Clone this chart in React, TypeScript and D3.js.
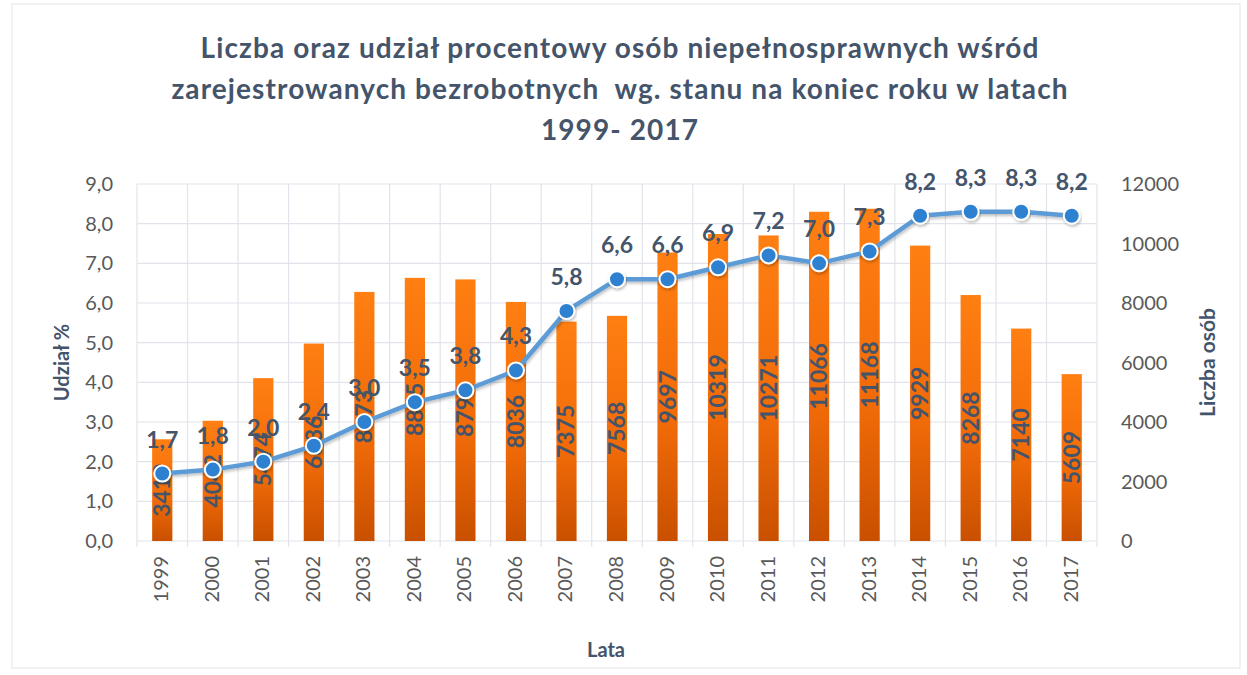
import React from 'react';
import * as d3 from 'd3';

const years = ['1999', '2000', '2001', '2002', '2003', '2004', '2005', '2006', '2007', '2008',
  '2009', '2010', '2011', '2012', '2013', '2014', '2015', '2016', '2017'];
const counts = [3419, 4042, 5474, 6636, 8373, 8845, 8793, 8036, 7375, 7568,
  9697, 10319, 10271, 11066, 11168, 9929, 8268, 7140, 5609];
const shares = [1.7, 1.8, 2.0, 2.4, 3.0, 3.5, 3.8, 4.3, 5.8, 6.6,
  6.6, 6.9, 7.2, 7.0, 7.3, 8.2, 8.3, 8.3, 8.2];
const leftTicks = [0, 1, 2, 3, 4, 5, 6, 7, 8, 9];
const rightTicks = [0, 2000, 4000, 6000, 8000, 10000, 12000];
const titleLines = [
  'Liczba oraz udział procentowy osób niepełnosprawnych wśród',
  'zarejestrowanych bezrobotnych  wg. stanu na koniec roku w latach',
  '1999- 2017',
];

const W = 1247;
const H = 675;
const plot = { left: 137, right: 1097, top: 184, bottom: 541 };
const font = 'Lato, "Open Sans", sans-serif';
const dark = '#44546a';
const gray = '#595959';

const App = () => {
  const x = d3.scaleBand<string>()
    .domain(years)
    .range([plot.left, plot.right])
    .paddingInner(0.6)
    .paddingOuter(0.3);
  const yL = d3.scaleLinear().domain([0, 9]).range([plot.bottom, plot.top]);
  const yR = d3.scaleLinear().domain([0, 12000]).range([plot.bottom, plot.top]);
  const cx = (y: string) => (x(y) ?? 0) + x.bandwidth() / 2;
  const step = x.step();
  const fmt = (v: number) => v.toFixed(1).replace('.', ',');

  const line = d3.line<number>()
    .x((_, i) => cx(years[i]))
    .y((d) => yL(d));

  return (
    <svg width={W} height={H} style={{ position: 'absolute', left: 0, top: 0, background: '#fff' }}>
      <defs>
        <linearGradient id="barGrad" x1="0" y1="0" x2="0" y2="1">
          <stop offset="0%" stopColor="#ff7f12" />
          <stop offset="60%" stopColor="#f06a08" />
          <stop offset="100%" stopColor="#c95000" />
        </linearGradient>
        <filter id="shadow" x="-10%" y="-10%" width="120%" height="140%">
          <feDropShadow dx="1" dy="2" stdDeviation="1.5" floodColor="#000" floodOpacity="0.25" />
        </filter>
      </defs>
      <rect x={12} y={4} width={1228} height={664} fill="none" stroke="#e3e3e3" />

      {/* title */}
      {titleLines.map((t, i) => (
        <text key={i} x={620} y={58 + i * 41} textAnchor="middle" fontFamily={font}
          fontWeight={700} fontSize={28} letterSpacing={1.1} fill={dark}
          style={{ whiteSpace: 'pre' }}>{t}</text>
      ))}

      {/* grid */}
      {leftTicks.map((t) => (
        <line key={'h' + t} x1={plot.left} x2={plot.right} y1={yL(t)} y2={yL(t)} stroke="#e1e4ea" strokeWidth={1.2} />
      ))}
      {d3.range(years.length + 1).map((i) => (
        <line key={'v' + i} x1={plot.left + i * step} x2={plot.left + i * step}
          y1={plot.top} y2={plot.bottom + 6} stroke="#e1e4ea" strokeWidth={1.2} />
      ))}

      {/* bars */}
      {counts.map((c, i) => (
        <rect key={'b' + i} x={x(years[i])} y={yR(c)} width={x.bandwidth()}
          height={plot.bottom - yR(c)} fill="url(#barGrad)" />
      ))}
      {counts.map((c, i) => {
        const my = (yR(c) + plot.bottom) / 2;
        return (
          <text key={'bl' + i} transform={`translate(${cx(years[i]) + 8},${my}) rotate(-90)`}
            textAnchor="middle" fontFamily={font} fontWeight={700} fontSize={23} fill={dark}>{c}</text>
        );
      })}

      {/* line */}
      <path d={line(shares) ?? ''} fill="none" stroke="#5b9bd5" strokeWidth={4.5}
        strokeLinejoin="round" filter="url(#shadow)" />
      {shares.map((s, i) => (
        <circle key={'c' + i} cx={cx(years[i])} cy={yL(s)} r={8} fill="#2f80d0"
          stroke="#fff" strokeWidth={2} filter="url(#shadow)" />
      ))}
      {shares.map((s, i) => (
        <text key={'sl' + i} x={cx(years[i])} y={yL(s) - 26} textAnchor="middle" fontFamily={font}
          fontWeight={700} fontSize={23} fill={dark}>{fmt(s)}</text>
      ))}

      {/* left axis */}
      {leftTicks.map((t) => (
        <text key={'lt' + t} x={113} y={yL(t) + 7} textAnchor="end" fontFamily={font}
          fontSize={20} fill={gray}>{fmt(t)}</text>
      ))}
      <text transform={`translate(69,${(plot.top + plot.bottom) / 2}) rotate(-90)`} textAnchor="middle"
        fontFamily={font} fontWeight={700} fontSize={20} fill={dark}>Udział %</text>

      {/* right axis */}
      {rightTicks.map((t) => (
        <text key={'rt' + t} x={1121} y={yR(t) + 7} fontFamily={font}
          fontSize={20} fill={gray}>{t}</text>
      ))}
      <text transform={`translate(1215,${(plot.top + plot.bottom) / 2}) rotate(-90)`} textAnchor="middle"
        fontFamily={font} fontWeight={700} fontSize={21} fill={dark}>Liczba osób</text>

      {/* x axis */}
      {years.map((y) => (
        <text key={'xt' + y} transform={`translate(${cx(y) + 6},${plot.bottom + 15}) rotate(-90)`}
          textAnchor="end" fontFamily={font} fontSize={20} fill={gray}>{y}</text>
      ))}
      <text x={606} y={657} textAnchor="middle" fontFamily={font} fontWeight={700}
        fontSize={20} fill={dark}>Lata</text>
    </svg>
  );
};

export default App;
